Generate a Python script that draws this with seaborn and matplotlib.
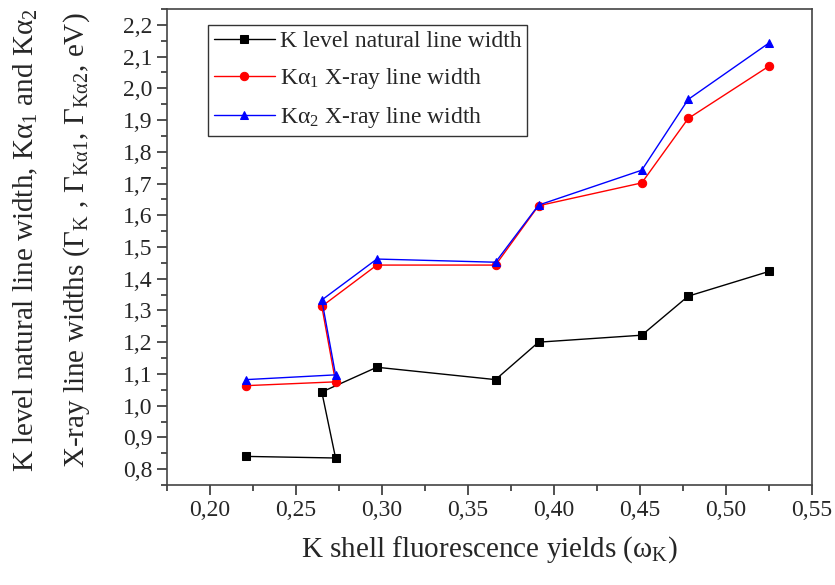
import matplotlib
matplotlib.use("Agg")
import matplotlib.pyplot as plt
import numpy as np
import pandas as pd
import seaborn as sns
from matplotlib.ticker import FuncFormatter, MultipleLocator

# fluorescence yields (order kept as in the source plot)
omega_k = [0.221, 0.273, 0.265, 0.297, 0.366, 0.391, 0.451, 0.478, 0.525]
gamma_k = [0.840, 0.835, 1.043, 1.121, 1.082, 1.200, 1.222, 1.345, 1.423]
gamma_ka1 = [1.063, 1.075, 1.313, 1.443, 1.443, 1.630, 1.702, 1.905, 2.070]
gamma_ka2 = [1.082, 1.097, 1.333, 1.462, 1.452, 1.632, 1.742, 1.965, 2.143]

series_labels = [
    "K level natural line width",
    "Kα$_1$ X-ray line width",
    "Kα$_2$ X-ray line width",
]

sns.set_style("ticks")
plt.rcParams["font.family"] = ["Liberation Serif", "DejaVu Serif"]
plt.rcParams["mathtext.fontset"] = "custom"
plt.rcParams["mathtext.rm"] = "Liberation Serif"
plt.rcParams["mathtext.it"] = "Liberation Serif:italic"
plt.rcParams["mathtext.default"] = "rm"

df = pd.DataFrame({"omega": omega_k, "gk": gamma_k, "ga1": gamma_ka1, "ga2": gamma_ka2})

fig = plt.figure(figsize=(8.35, 5.85), dpi=100)
ax = fig.add_axes([0.2, 0.171, 0.7725, 0.8136])

styles = [("gk", "black", "s"), ("ga1", "red", "o"), ("ga2", "blue", "^")]
for (col, color, marker), label in zip(styles, series_labels):
    sns.lineplot(
        data=df,
        x="omega",
        y=col,
        sort=False,
        color=color,
        marker=marker,
        markersize=6,
        markeredgecolor=color,
        linewidth=1.0,
        label=label,
        ax=ax,
    )

ax.set_xlim(0.175, 0.55)
ax.set_ylim(0.75, 2.25)
ax.xaxis.set_major_locator(MultipleLocator(0.05))
ax.xaxis.set_minor_locator(MultipleLocator(0.025))
ax.yaxis.set_major_locator(MultipleLocator(0.1))
ax.yaxis.set_minor_locator(MultipleLocator(0.05))
ax.xaxis.set_major_formatter(FuncFormatter(lambda v, p: f"{v:.2f}".replace(".", ",")))
ax.yaxis.set_major_formatter(FuncFormatter(lambda v, p: f"{v:.1f}".replace(".", ",")))

ax.tick_params(which="major", direction="out", length=7, width=1.1, labelsize=17, color="#222222")
ax.tick_params(which="minor", direction="out", length=4, width=1.1, color="#222222")
for sp in ax.spines.values():
    sp.set_visible(True)
    sp.set_linewidth(1.2)
    sp.set_color("#444444")

ax.set_xlabel("K shell fluorescence yields (ω$_\\mathrm{K}$)", fontsize=21, labelpad=10)
ax.set_ylabel(
    "K level natural line width, Kα$_1$ and Kα$_2$\n"
    "X-ray line widths (Γ$_\\mathrm{K}$ , Γ$_\\mathrm{Kα1}$, Γ$_\\mathrm{Kα2}$, eV)",
    fontsize=21,
    labelpad=22,
    linespacing=1.95,
    y=0.515,
)

leg = ax.legend(
    loc="upper left",
    bbox_to_anchor=(0.063, 0.967),
    fontsize=17,
    frameon=True,
    fancybox=False,
    edgecolor="black",
    handlelength=2.6,
    borderpad=0.25,
    labelspacing=0.6,
    handletextpad=0.2,
    borderaxespad=0,
)
leg.get_frame().set_linewidth(1.0)

fig.savefig("out.png", dpi=100)
